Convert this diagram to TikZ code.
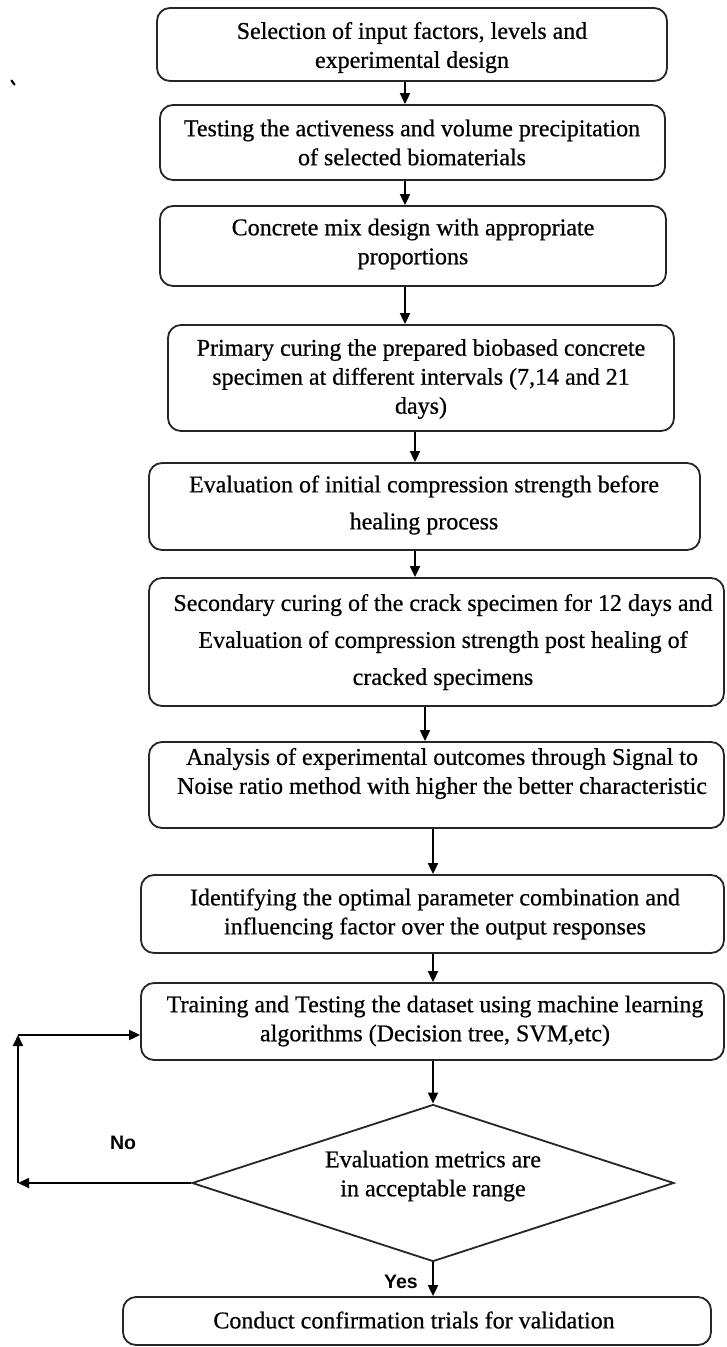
\documentclass[tikz,border=0pt]{standalone}
\usepackage{fontspec}
\setmainfont{Liberation Serif}
\newfontfamily\boxfont{Liberation Serif}[FakeBold=0.6]
\newfontfamily\arialfont{Liberation Sans}
\usetikzlibrary{arrows.meta,shapes.geometric}
\begin{document}
\begin{tikzpicture}[x=1pt,y=-1pt,
  boxstyle/.style={draw=black!85,line width=1.8pt,rounded corners=13pt,inner sep=0pt},
  txt/.style={align=center,inner sep=0pt,font=\boxfont\fontsize{24}{29}\selectfont},
  txtwide/.style={align=center,inner sep=0pt,font=\boxfont\fontsize{24}{37}\selectfont},
  dia/.style={draw=black!85,line width=1.8pt,diamond,inner sep=0pt},
  arr/.style={line width=1.8pt,-{Triangle[length=11pt,width=10pt]}},
  lbl/.style={font=\arialfont\bfseries\fontsize{19.5}{22}\selectfont,inner sep=0pt}]
\useasboundingbox (0,0) rectangle (726,1347);
\fill[white] (0,0) rectangle (726,1347);
% boxes
\node[boxstyle,minimum width=510pt,minimum height=73pt] (b1) at (412,44.5) {};
\node[boxstyle,minimum width=505pt,minimum height=75pt] (b2) at (412.5,142.5) {};
\node[boxstyle,minimum width=506pt,minimum height=80pt] (b3) at (413,246) {};
\node[boxstyle,minimum width=506pt,minimum height=106pt] (b4) at (421,378) {};
\node[boxstyle,minimum width=551pt,minimum height=87pt] (b5) at (424.5,506.5) {};
\node[boxstyle,minimum width=575pt,minimum height=128pt] (b6) at (436.5,642) {};
\node[boxstyle,minimum width=575pt,minimum height=86pt] (b7) at (436.5,785) {};
\node[boxstyle,minimum width=583pt,minimum height=78pt] (b8) at (432.5,914) {};
\node[boxstyle,minimum width=583pt,minimum height=77pt] (b9) at (432.5,1021.5) {};
\node[dia,minimum width=482pt,minimum height=157pt] (d) at (433,1183) {};
\node[boxstyle,minimum width=588pt,minimum height=48pt] (b10) at (417,1321) {};
% texts
\node[txt] (t1) at (412,47.5) {Selection of input factors, levels and\\experimental design};
\node[txt] (t2) at (412,142.5) {Testing the activeness and volume precipitation\\of selected biomaterials};
\node[txt] (t3) at (413,244) {Concrete mix design with appropriate\\proportions};
\node[txt] (t4) at (421,379) {Primary curing the prepared biobased concrete\\specimen at different intervals (7,14 and 21\\days)};
\node[txtwide] (t5) at (424,505) {Evaluation of initial compression strength before\\healing process};
\node[txtwide] (t6) at (443,642) {Secondary curing of the crack specimen for 12 days and\\Evaluation of compression strength post healing of\\cracked specimens};
\node[txt] (t7) at (442,773.5) {Analysis of experimental outcomes through Signal to\\Noise ratio method with higher the better characteristic};
\node[txt] (t8) at (435,914) {Identifying the optimal parameter combination and\\influencing factor over the output responses};
\node[txt] (t9) at (435,1021) {Training and Testing the dataset using machine learning\\algorithms (Decision tree, SVM,etc)};
\node[txt] (td) at (433,1176) {Evaluation metrics are\\in acceptable range};
\node[txt] (t10) at (414,1320) {Conduct confirmation trials for validation};
% labels
\node[lbl] (no) at (123,1143) {No};
\node[lbl] (yes) at (401,1282) {Yes};
% stray mark
\draw[line width=2.2pt,line cap=round] (11.5,80.5) -- (14.5,84.5);
% arrow columns
\coordinate (c405) at (405,0);
\coordinate (c415) at (415,0);
\coordinate (c425) at (425,0);
\coordinate (c433) at (433,0);
\draw[arr] (b1.south -| c405) -- (b2.north -| c405);
\draw[arr] (b2.south -| c405) -- (b3.north -| c405);
\draw[arr] (b3.south -| c405) -- (b4.north -| c405);
\draw[arr] (b4.south -| c415) -- (b5.north -| c415);
\draw[arr] (b5.south -| c415) -- (b6.north -| c415);
\draw[arr] (b6.south -| c425) -- (b7.north -| c425);
\draw[arr] (b7.south -| c433) -- (b8.north -| c433);
\draw[arr] (b8.south -| c433) -- (b9.north -| c433);
\draw[arr] (b9.south -| c433) -- (d.north);
\draw[arr] (d.south) -- (b10.north -| c433);
% loop back
\coordinate (lb) at (18,1183);
\coordinate (lt) at (18,1035);
\draw[arr] (d.west) -- (lb);
\draw[arr] (lb) -- (lt);
\draw[arr] (lt) -- (b9.west |- lt);
\end{tikzpicture}
\end{document}
